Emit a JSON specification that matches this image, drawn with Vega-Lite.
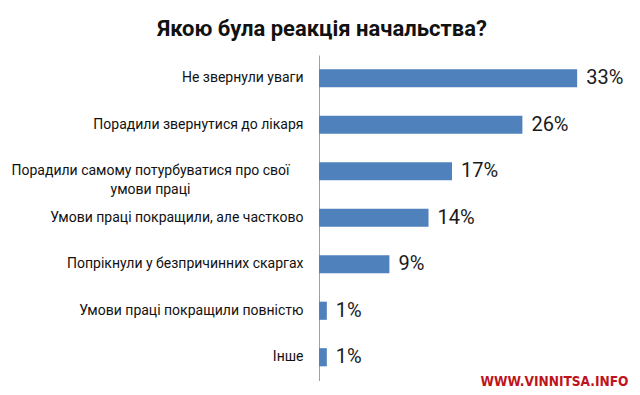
{
  "$schema": "https://vega.github.io/schema/vega-lite/v6.json",
  "width": 309,
  "height": 325.5,
  "autosize": {"type": "none"},
  "padding": {"left": 319, "top": 55, "right": 12, "bottom": 14.5},
  "background": "white",
  "title": {
    "text": "Якою була реакція начальства?",
    "font": "Roboto",
    "fontSize": 22,
    "fontWeight": "bold",
    "color": "#111111",
    "anchor": "middle",
    "frame": "group",
    "baseline": "alphabetic",
    "offset": 19,
    "dx": -151.5,
    "dy": 22
  },
  "data": {
    "values": [
      {"answer": "Не звернули уваги", "share": 0.33},
      {"answer": "Порадили звернутися до лікаря", "share": 0.26},
      {"answer": "Порадили самому потурбуватися про свої|умови праці", "share": 0.17},
      {"answer": "Умови праці покращили, але частково", "share": 0.14},
      {"answer": "Попрікнули у безпричинних скаргах", "share": 0.09},
      {"answer": "Умови праці покращили повністю", "share": 0.01},
      {"answer": "Інше", "share": 0.01}
    ]
  },
  "encoding": {
    "y": {
      "field": "answer",
      "type": "nominal",
      "sort": null,
      "scale": {"paddingInner": 0.61, "paddingOuter": 0.305},
      "axis": {
        "title": null,
        "ticks": false,
        "domainColor": "#a0a0a0",
        "domainWidth": 1,
        "labelFont": "Roboto",
        "labelFontSize": 14,
        "labelColor": "#111111",
        "labelLimit": 400,
        "labelLineHeight": 19,
        "labelExpr": "split(datum.label, '|')",
        "labelAlign": {"condition": {"test": "indexof(datum.value, '|') >= 0", "value": "center"}, "value": "right"},
        "labelPadding": {"condition": {"test": "indexof(datum.value, '|') >= 0", "value": 169}, "value": 16}
      }
    },
    "x": {
      "field": "share",
      "type": "quantitative",
      "scale": {"domain": [0, 0.395]},
      "axis": {
        "grid": false,
        "labels": false,
        "ticks": false,
        "domain": false,
        "title": "WWW.VINNITSA.INFO",
        "titleAnchor": "end",
        "titleFont": "'DejaVu Sans Condensed', Roboto, sans-serif",
        "titleFontSize": 13.6,
        "titleFontWeight": "bold",
        "titleColor": "#c0141c",
        "titleBaseline": "alphabetic",
        "titleY": 4.5
      }
    }
  },
  "layer": [
    {"mark": {"type": "bar", "color": "#4f81bd"}},
    {
      "mark": {"type": "text", "align": "left", "baseline": "middle", "dx": 9, "font": "Roboto", "fontSize": 20, "color": "#1a1a1a"},
      "encoding": {"text": {"field": "share", "type": "quantitative", "format": ".0%"}}
    }
  ],
  "config": {"view": {"stroke": null}}
}
